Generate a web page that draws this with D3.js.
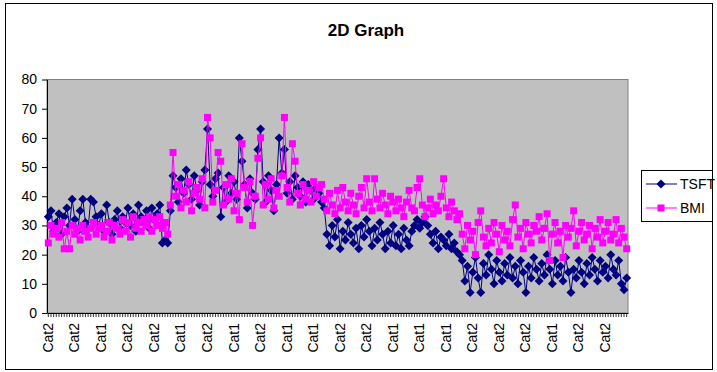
<!DOCTYPE html>
<html>
<head>
<meta charset="utf-8">
<script src="https://cdn.jsdelivr.net/npm/d3@7"></script>
<style>
  body { margin: 0; background: #fff; }
  svg { font-family: "Liberation Sans", Arial, sans-serif; }
</style>
</head>
<body>
<script>

// every 10th category label, as shown on the axis
const shownLabels = ['Cat2', 'Cat2', 'Cat1', 'Cat2', 'Cat2', 'Cat1', 'Cat2', 'Cat1', 'Cat2', 'Cat1', 'Cat1',
    'Cat2', 'Cat2', 'Cat1', 'Cat1', 'Cat1', 'Cat2', 'Cat2', 'Cat2', 'Cat1', 'Cat2', 'Cat2'];
const labelStep = 10;

const yTicks = [0, 10, 20, 30, 40, 50, 60, 70, 80];

const seriesNames = ['TSFT', 'BMI'];

const tsft = [
    33, 35, 28, 31, 34, 27, 33, 36, 30, 39,
    32, 28, 35, 39, 31, 29, 39, 38, 33, 30,
    34, 28, 37, 31, 27, 32, 35, 29, 33, 31,
    36, 30, 34, 28, 37, 33, 31, 35, 29, 36,
    32, 34, 37, 24, 25, 24,
    35, 47, 43, 38, 46, 41, 49, 44, 39, 47,
    42, 37, 45, 49, 63, 44, 40, 46, 48, 33,
    43, 38, 47, 41, 45, 39, 60, 52, 44, 36,
    46, 41, 39, 56, 63, 45, 38, 47, 42, 35,
    44, 60, 48, 56, 41, 45, 39, 47, 43, 40,
    45, 38, 44, 42, 39, 43, 41,
    38, 36, 27, 23, 30, 26, 32, 22, 28, 25,
    31, 27, 24, 29, 22, 30, 26, 32, 28, 23,
    29, 25, 31, 27, 22, 28, 24, 30, 23, 27,
    22, 29, 25, 23, 28, 30, 32, 29, 31, 33,
    30, 27, 24, 28, 22, 26, 25, 23, 27, 22,
    24, 21, 20,
    18, 11, 16, 7, 14, 19, 12, 7, 17, 13,
    20, 15, 10, 18, 14, 11, 17, 13, 19, 12,
    16, 10, 18, 14, 7, 16, 12, 19, 15, 11,
    17, 13, 20, 15, 10, 18, 13, 16, 11, 19,
    14, 7, 15, 12, 18, 14, 10, 17, 13, 19,
    15, 11, 18, 14, 16, 12, 20, 15, 13, 18,
    10, 8, 12
];

const bmi = [
    24, 30, 27, 29, 26, 31, 22, 28, 22, 30,
    27, 29, 25, 30, 28, 26, 29, 31, 27, 29,
    30, 26, 28, 31, 25, 30, 29, 27, 32, 28,
    31, 26, 33, 29, 31, 28, 32, 30, 33, 28,
    32, 30, 33, 29, 31, 27,
    37, 55, 40, 44, 36, 42, 38, 45, 35, 41,
    43, 39, 46, 36, 67, 60, 38, 42, 55, 52,
    37, 44, 39, 46, 35, 41, 32, 58, 43, 38,
    45, 30, 40, 53, 60, 37, 44, 39, 46, 36,
    42, 40, 47, 67, 43, 38, 58, 52, 41, 37,
    44, 39, 42, 38, 45, 40, 43,
    44, 39, 35, 41, 37, 34, 42, 36, 43, 38,
    35, 41, 37, 34, 40, 43, 36, 46, 38, 35,
    46, 39, 36, 41, 37, 34, 40, 38, 35, 39,
    36, 33, 38, 42, 36, 35, 43, 46, 37, 33,
    36, 39, 34, 37, 35, 40, 46, 36, 33, 38,
    35, 32, 34,
    27, 22, 30, 25, 28, 20, 31, 35, 26, 23,
    29, 24, 31, 27, 21, 30, 25, 28, 23, 32,
    37, 26, 29, 22, 31, 27, 24, 30, 28, 33,
    25, 29, 34, 18, 27, 31, 24, 28, 19, 30,
    26, 29, 35, 23, 28, 31, 25, 27, 30, 22,
    29, 26, 32, 24, 28, 31, 25, 27, 32, 24,
    29, 26, 22
];

const colors = ['#000080', '#FF00FF'];

const width = 717, height = 372;
const plot = { left: 47, top: 79.5, right: 628, bottom: 313 };

const diamond = 'M0,-4.5L4.5,0L0,4.5L-4.5,0Z';
const sq = 7;

const svg = d3.select('body').append('svg')
    .attr('width', width)
    .attr('height', height);

// chart border
svg.append('rect')
    .attr('x', 5.5).attr('y', 3.5)
    .attr('width', 707).attr('height', 366)
    .attr('fill', '#fff')
    .attr('stroke', '#000');

svg.append('text')
    .attr('x', 366).attr('y', 36)
    .attr('text-anchor', 'middle')
    .style('font-size', '17px')
    .style('font-weight', 'bold')
    .text('2D Graph');

svg.append('rect')
    .attr('x', plot.left).attr('y', plot.top)
    .attr('width', plot.right - plot.left).attr('height', plot.bottom - plot.top)
    .attr('fill', '#C0C0C0')
    .attr('stroke', '#808080');

const n = tsft.length;
const x = d3.scaleBand()
    .domain(d3.range(n))
    .range([plot.left, plot.right]);

const y = d3.scaleLinear()
    .domain([0, 80])
    .range([plot.bottom, plot.top]);

// y axis
const yAxis = svg.append('g')
    .attr('transform', `translate(${plot.left},0)`)
    .call(d3.axisLeft(y).tickValues(yTicks).tickSize(5).tickPadding(5).tickSizeOuter(0));
yAxis.select('.domain').attr('stroke', '#000');
yAxis.selectAll('.tick line').attr('stroke', '#000');
yAxis.selectAll('.tick text')
    .attr('fill', '#000')
    .style('font-size', '14px')
    .style('font-family', '"Liberation Sans", Arial, sans-serif');

// x axis, one tick per category
const xAxis = svg.append('g')
    .attr('transform', `translate(0,${plot.bottom})`)
    .call(d3.axisBottom(x).tickSize(4).tickSizeOuter(0).tickFormat(''));
xAxis.select('.domain').attr('stroke', '#000');
xAxis.selectAll('.tick line').attr('stroke', '#000').attr('stroke-width', 0.8);

svg.append('g')
    .selectAll('text')
    .data(shownLabels)
    .join('text')
    .attr('transform', (d, i) => `translate(${x(i * labelStep) + x.bandwidth() / 2 + 4.5},${plot.bottom + 10}) rotate(-90)`)
    .attr('text-anchor', 'end')
    .style('font-size', '14px')
    .text(d => d);

const series = [tsft, bmi];

const line = d3.line()
    .x((d, i) => x(i) + x.bandwidth() / 2)
    .y(d => y(d));

series.forEach((values, s) => {
    const g = svg.append('g');
    g.append('path')
        .datum(values)
        .attr('fill', 'none')
        .attr('stroke', colors[s])
        .attr('stroke-width', 1)
        .attr('d', line);
    if (s === 0) {
        g.selectAll('path.m')
            .data(values)
            .join('path')
            .attr('class', 'm')
            .attr('transform', (d, i) => `translate(${x(i) + x.bandwidth() / 2},${y(d)})`)
            .attr('d', diamond)
            .attr('fill', colors[s]);
    } else {
        g.selectAll('rect')
            .data(values)
            .join('rect')
            .attr('x', (d, i) => x(i) + x.bandwidth() / 2 - sq / 2)
            .attr('y', d => y(d) - sq / 2)
            .attr('width', sq).attr('height', sq)
            .attr('fill', colors[s]);
    }
});

// legend
const legend = svg.append('g');
legend.append('rect')
    .attr('x', 641.5).attr('y', 170.5)
    .attr('width', 71).attr('height', 51)
    .attr('fill', '#fff')
    .attr('stroke', '#000');

seriesNames.forEach((name, s) => {
    const ly = 184 + s * 24;
    legend.append('line')
        .attr('x1', 646).attr('x2', 677)
        .attr('y1', ly).attr('y2', ly)
        .attr('stroke', colors[s]);
    if (s === 0) {
        legend.append('path')
            .attr('transform', `translate(661,${ly})`)
            .attr('d', diamond)
            .attr('fill', colors[s]);
    } else {
        legend.append('rect')
            .attr('x', 661 - sq / 2).attr('y', ly - sq / 2)
            .attr('width', sq).attr('height', sq)
            .attr('fill', colors[s]);
    }
    legend.append('text')
        .attr('x', 680).attr('y', ly + 5)
        .style('font-size', '14px')
        .text(name);
});

</script>
</body>
</html>
